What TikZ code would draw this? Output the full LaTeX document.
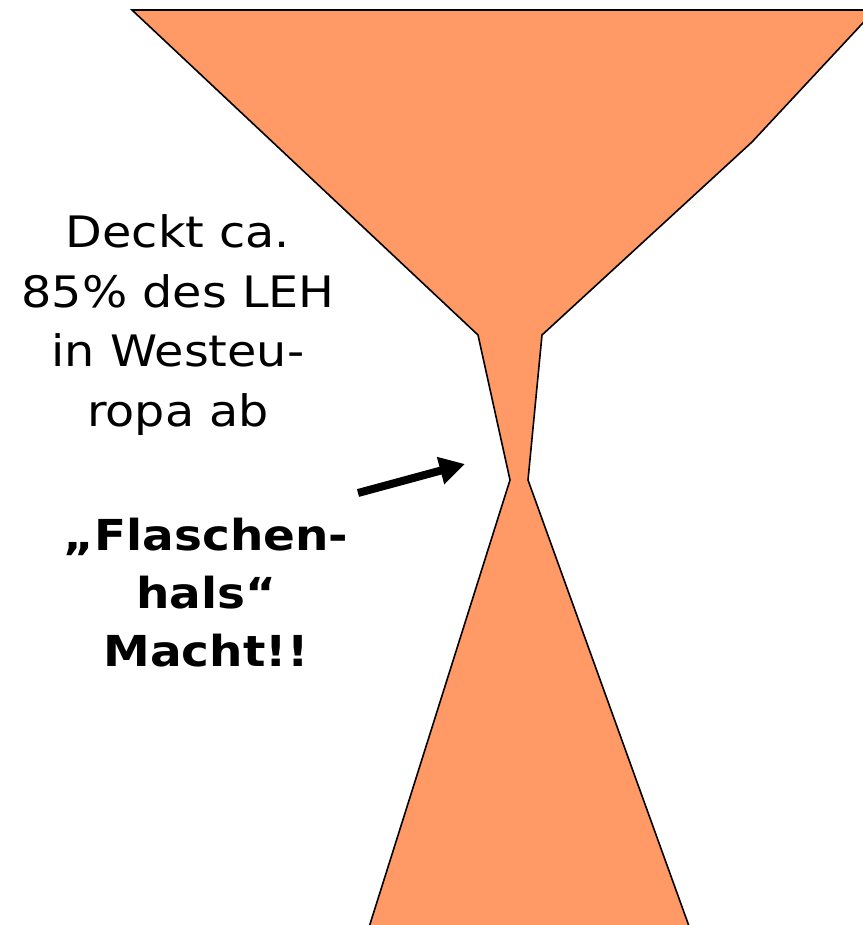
\documentclass[tikz,border=0pt]{standalone}
\usepackage{fontspec}
\setmainfont{DejaVu Sans}[FakeStretch=1.1]
\usetikzlibrary{arrows.meta}
\definecolor{funnel}{RGB}{255,153,102}
\tikzset{
  outline/.style={fill=funnel, draw=black, line width=1.2pt, line join=miter},
  plain/.style={align=center, font=\fontsize{32.5}{44.8}\selectfont, inner sep=0pt},
  strong/.style={align=center, font=\bfseries\fontsize{32}{43.5}\selectfont, inner sep=0pt},
  pointer/.style={line width=6pt, -{Triangle[length=19pt,width=20pt]}}
}
\begin{document}
\begin{tikzpicture}[x=0.75pt,y=-0.75pt]
  \useasboundingbox (0,0) rectangle (863,925);
  \begin{scope}
    \clip (0,0) rectangle (863,925);
    % bottle: wide funnel on top, narrow neck, widening base cut off at the bottom
    \draw[outline] (132,10) -- (875,10) -- (752,142) -- (542,335) -- (528,480)
      -- (694,940) -- (365,940) -- (510,480) -- (478,335) -- cycle;
    \draw[line width=1.8pt] (132,10) -- (875,10);
  \end{scope}
  % base anchor of a multi-line node sits on its last line
  \node[plain, anchor=base] (share) at (178,426.5)
    {Deckt ca.\\85\% des LEH\\in Westeu-\\ropa ab};
  \node[strong, anchor=base] (neck) at (206,666)
    {„Flaschen-\\hals“\\Macht!!};
  \coordinate (tail) at (358,493);
  \coordinate (tip) at (465,464);
  \draw[pointer] (tail) -- (tip);
\end{tikzpicture}
\end{document}
